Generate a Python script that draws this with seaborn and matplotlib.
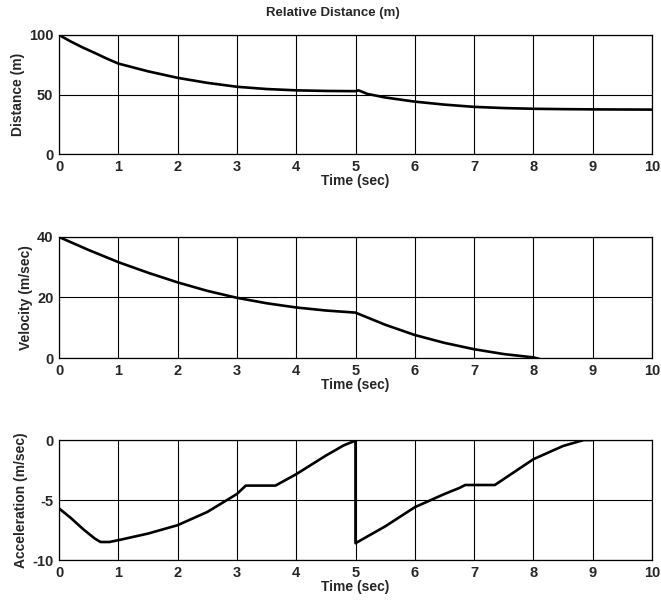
import matplotlib
matplotlib.use("Agg")
import matplotlib.pyplot as plt
import seaborn as sns
import numpy as np

# ---- data ----
t_dist = [0, 0.2, 0.4, 0.6, 0.8, 1, 1.5, 2, 2.5, 3, 3.5, 4, 4.5, 5, 5.05, 5.2, 5.5, 6, 6.5, 7, 7.5, 8, 8.5, 9, 9.5, 10]
distance = [100, 94.5, 89.5, 85, 80.3, 76, 69.5, 64, 59.8, 56.5, 54.6, 53.5, 53, 52.8, 53.5, 50.5, 47.5, 44, 41.5, 39.6, 38.6, 38, 37.7, 37.5, 37.4, 37.3]

t_vel = [0, 0.5, 1, 1.5, 2, 2.5, 3, 3.5, 4, 4.5, 5, 5.5, 6, 6.5, 7, 7.5, 8, 8.1]
velocity = [40, 35.7, 31.7, 28.2, 25, 22.2, 19.9, 18.1, 16.7, 15.7, 15.0, 11.0, 7.6, 5.0, 2.9, 1.3, 0.2, -0.3]

t_acc = [0, 0.2, 0.4, 0.6, 0.7, 0.85, 1, 1.5, 2, 2.5, 3, 3.15, 3.65, 4, 4.5, 4.8, 5, 5,
         5.5, 6, 6.5, 6.75, 6.85, 7.35, 8, 8.5, 8.85, 9]
acceleration = [-5.7, -6.5, -7.4, -8.2, -8.5, -8.5, -8.35, -7.8, -7.1, -6.0, -4.5, -3.8, -3.8, -2.85, -1.3, -0.45, -0.05, -8.6,
                -7.2, -5.6, -4.5, -4.0, -3.75, -3.75, -1.6, -0.5, 0.0, 0.0]

x_ticks = list(range(0, 11))
panels = [
    dict(t=t_dist, y=distance, ylim=(0, 100), yticks=[0, 50, 100], ylabel="Distance (m)"),
    dict(t=t_vel, y=velocity, ylim=(0, 40), yticks=[0, 20, 40], ylabel="Velocity (m/sec)"),
    dict(t=t_acc, y=acceleration, ylim=(-10, 0), yticks=[-10, -5, 0], ylabel="Acceleration (m/sec)"),
]
title = "Relative Distance (m)"

sns.set_style("white")
plt.rcParams["font.family"] = ["Liberation Sans", "DejaVu Sans"]
plt.rcParams["font.weight"] = "bold"

fig = plt.figure(figsize=(6.61, 6.05), dpi=100)
W, H = 661, 605
boxes = [(59, 35, 593, 119), (59, 237, 593, 121), (59, 440, 593, 120)]

for p, (x0, y0, w, h) in zip(panels, boxes):
    ax = fig.add_axes([x0 / W, 1 - (y0 + h) / H, w / W, h / H])
    sns.lineplot(x=p["t"], y=p["y"], ax=ax, estimator=None, sort=False,
                 color="black", linewidth=1.9)
    ax.set_xlim(0, 10)
    ax.set_ylim(*p["ylim"])
    ax.set_xticks(x_ticks)
    ax.set_yticks(p["yticks"])
    ax.set_xticklabels([str(v) for v in x_ticks], fontsize=10.5, fontweight="bold")
    ax.set_yticklabels([str(v) for v in p["yticks"]], fontsize=10.5, fontweight="bold")
    ax.tick_params(length=0, pad=4)
    ax.grid(True, color="black", linewidth=0.8)
    for s in ax.spines.values():
        s.set_visible(True)
        s.set_color("black")
        s.set_linewidth(0.9)
    ax.set_xlabel("Time (sec)", fontsize=10, fontweight="bold", labelpad=0)
    ax.set_ylabel(p["ylabel"], fontsize=10, fontweight="bold", labelpad=3)

fig.text(333 / W, 1 - 13 / H, title, ha="center", va="center", fontsize=9.5, fontweight="bold")

fig.savefig("out.png", dpi=100)
